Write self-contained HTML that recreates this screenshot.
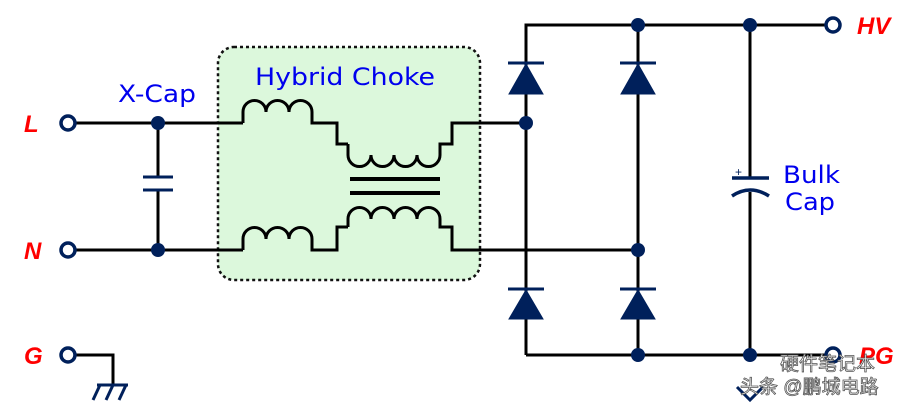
<!DOCTYPE html>
<html><head><meta charset="utf-8"><style>
html,body{margin:0;padding:0;background:#fff;}
svg{display:block;}
</style></head><body>
<svg width="924" height="410" viewBox="0 0 924 410" xmlns="http://www.w3.org/2000/svg">
<rect x="218" y="47" width="262" height="233" rx="16" fill="#dcf8dc" stroke="#111" stroke-width="2.5" stroke-dasharray="3,3"/>
<g stroke="#000" stroke-width="3" fill="none">
<line x1="75" y1="123" x2="243" y2="123"/>
<path d="M243 123 V112 a11.5 11.5 0 0 1 23 0 a11.5 11.5 0 0 1 23 0 a11.5 11.5 0 0 1 23 0 V123 H337 V144 H348"/>
<path d="M348 144 v11 a11.5 11.5 0 0 0 23 0 a11.5 11.5 0 0 0 23 0 a11.5 11.5 0 0 0 23 0 a11.5 11.5 0 0 0 23 0 v-11 H452 V123 H526"/>
<line x1="75" y1="250" x2="243" y2="250"/>
<path d="M243 250 V239 a11.5 11.5 0 0 1 23 0 a11.5 11.5 0 0 1 23 0 a11.5 11.5 0 0 1 23 0 V250 H337 V227 H348"/>
<path d="M348 227 v-8 a11.5 11.5 0 0 1 23 0 a11.5 11.5 0 0 1 23 0 a11.5 11.5 0 0 1 23 0 a11.5 11.5 0 0 1 23 0 v8 H452 V250 H638"/>
<line x1="350" y1="179" x2="440" y2="179" stroke-width="4"/>
<line x1="350" y1="193" x2="440" y2="193" stroke-width="4"/>
<line x1="158" y1="123" x2="158" y2="177"/>
<line x1="158" y1="190" x2="158" y2="250"/>
<path d="M526 355 V25 H826"/>
<line x1="638" y1="25" x2="638" y2="355"/>
<path d="M526 355 H826"/>
<line x1="750" y1="25" x2="750" y2="178"/>
<line x1="750" y1="192" x2="750" y2="355"/>
<path d="M75 355 H113 V385"/>
</g>
<g fill="#00205b" stroke="#00205b">
<line x1="143" y1="177" x2="173" y2="177" stroke-width="3"/>
<line x1="143" y1="190" x2="173" y2="190" stroke-width="3"/>
<g stroke-width="3">
<line x1="508" y1="63" x2="544" y2="63"/><polygon points="526,64 509,94 543,94" stroke-width="1"/>
<line x1="620" y1="63" x2="656" y2="63"/><polygon points="638,64 621,94 655,94" stroke-width="1"/>
<line x1="508" y1="289" x2="544" y2="289"/><polygon points="526,290 509,319 543,319" stroke-width="1"/>
<line x1="620" y1="289" x2="656" y2="289"/><polygon points="638,290 621,319 655,319" stroke-width="1"/>
</g>
<line x1="732" y1="178" x2="769" y2="178" stroke-width="3.5"/>
<path d="M732 196 Q750 184 769 196" fill="none" stroke-width="3.5"/>
<text x="735" y="176" font-family="Liberation Sans, sans-serif" font-size="12" stroke="none">+</text>
<g stroke="none">
<circle cx="158" cy="123" r="7"/><circle cx="158" cy="250" r="7"/>
<circle cx="526" cy="123" r="7"/><circle cx="638" cy="250" r="7"/>
<circle cx="638" cy="25" r="7"/><circle cx="750" cy="25" r="7"/>
<circle cx="638" cy="355" r="7"/><circle cx="750" cy="355" r="7"/>
</g>
<g fill="#fff" stroke-width="3.5">
<circle cx="68" cy="123" r="7"/><circle cx="68" cy="250" r="7"/><circle cx="68" cy="355" r="7"/>
<circle cx="833" cy="25" r="7"/><circle cx="833" cy="355" r="7"/>
</g>
<g stroke-width="3" fill="none">
<line x1="97" y1="385" x2="128" y2="385"/>
<line x1="100" y1="385" x2="93" y2="400"/><line x1="113" y1="385" x2="106" y2="400"/><line x1="126" y1="385" x2="119" y2="400"/>
<path d="M737 387 L750 400 L763 387"/>
</g>
</g>
<g font-family="Liberation Sans, sans-serif" font-weight="bold" font-style="italic" fill="#ff0000" font-size="24">
<text x="24" y="132">L</text><text x="24" y="259">N</text><text x="24" y="364">G</text>
<text x="857" y="34">HV</text><text x="859" y="364">PG</text>
</g>
<g font-family="DejaVu Sans, sans-serif" fill="#0000ee" font-size="24">
<text x="118" y="102" textLength="78" lengthAdjust="spacingAndGlyphs">X-Cap</text>
<text x="255" y="85" textLength="180" lengthAdjust="spacingAndGlyphs">Hybrid Choke</text>
<text x="783" y="183" textLength="57" lengthAdjust="spacingAndGlyphs">Bulk</text>
<text x="785" y="210" textLength="50" lengthAdjust="spacingAndGlyphs">Cap</text>
</g>
<g font-family="Liberation Sans, Noto Sans CJK SC, sans-serif" font-size="19" fill="#fff" stroke="#555" stroke-width="0.8">
<text x="780" y="370">硬件笔记本</text>
<text x="740" y="393">头条 @鹏城电路</text>
</g>
</svg>
</body></html>
